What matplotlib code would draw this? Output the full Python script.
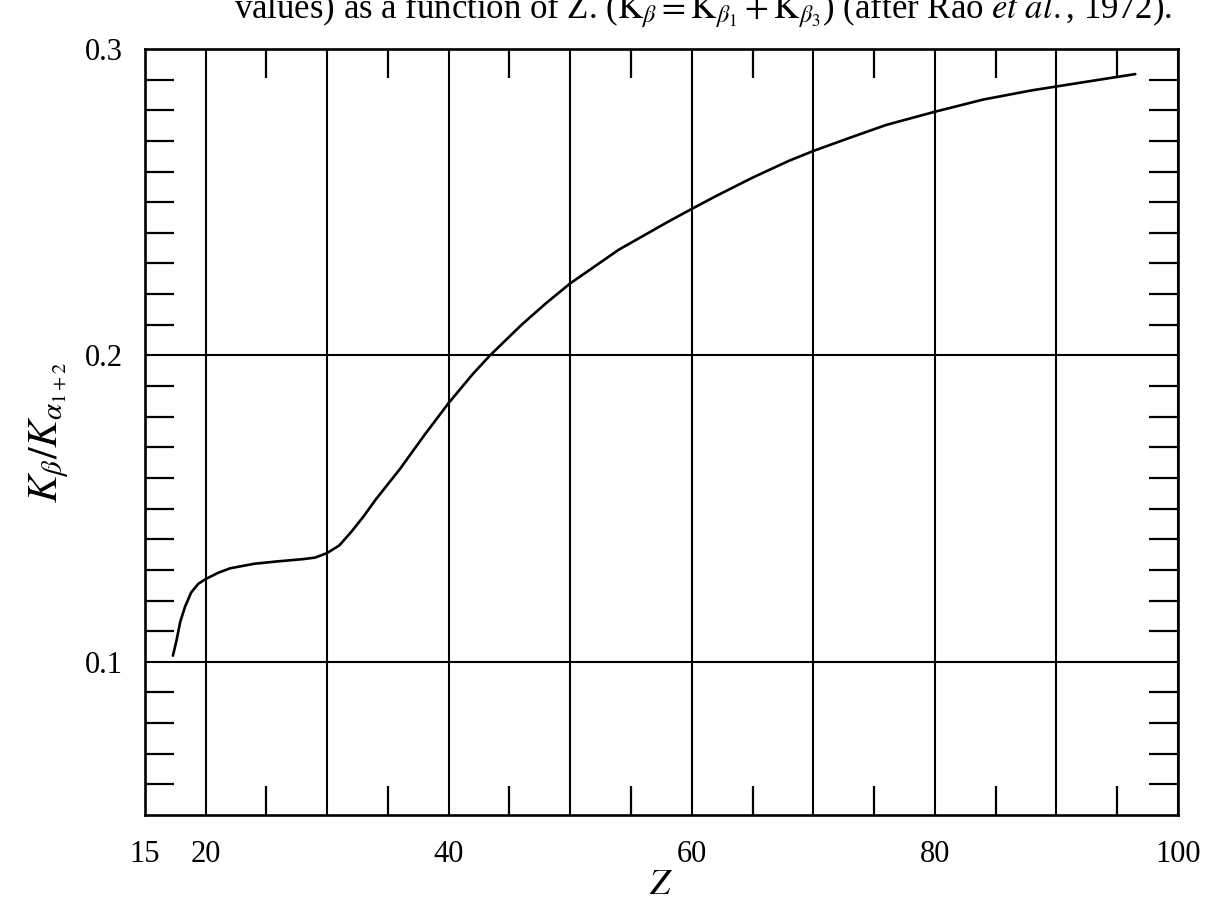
import matplotlib.pyplot as plt
import numpy as np
import matplotlib as mpl

mpl.rcParams['font.family'] = ['Liberation Serif', 'DejaVu Serif']
mpl.rcParams['mathtext.fontset'] = 'stix'
mpl.rcParams['font.size'] = 22

# K_beta / K_alpha ratio
z_vals = [17.3, 17.6, 17.9, 18.3, 18.8, 19.4, 20.0, 21.0, 22.0, 24.0, 26.0, 28.0,
          29.0, 30.0, 31.0, 32.0, 33.0, 34.0, 36.0, 38.0, 40.0, 42.0, 43.4,
          46.0, 48.0, 50.0, 52.0, 54.0, 56.0, 58.0, 60.0, 62.0, 65.0, 68.0,
          70.0, 73.0, 76.0, 80.0, 84.0, 88.0, 92.0, 96.5]
ratio = [0.102, 0.107, 0.113, 0.118, 0.1226, 0.1255, 0.127, 0.129, 0.1305, 0.132,
         0.1328, 0.1335, 0.134, 0.1355, 0.138, 0.1425, 0.1475, 0.153, 0.163,
         0.174, 0.1845, 0.194, 0.200, 0.210, 0.217, 0.2235, 0.229, 0.2345,
         0.239, 0.2435, 0.2478, 0.252, 0.258, 0.2635, 0.2667, 0.271, 0.2752,
         0.2795, 0.2835, 0.2865, 0.289, 0.2918]

x_ticks = [15, 20, 30, 40, 50, 60, 70, 80, 90, 100]
x_labels = ['15', '20', '', '40', '', '60', '', '80', '', '100']
x_minor = [25, 35, 45, 55, 65, 75, 85, 95]
y_ticks = [0.1, 0.2, 0.3]
y_labels = ['0.1', '0.2', '0.3']

fig = plt.figure(figsize=(12.08, 9.10), dpi=100)
ax = fig.add_axes([0.120, 0.1044, 0.855, 0.8418])

ax.plot(z_vals, ratio, color='black', lw=1.9, solid_capstyle='round',
        solid_joinstyle='round')

ax.set_xlim(15, 100)
ax.set_ylim(0.05, 0.3)

ax.set_xticks(x_ticks)
ax.set_xticklabels(x_labels)
ax.set_xticks(x_minor, minor=True)
ax.set_yticks(y_ticks)
ax.set_yticklabels(y_labels)
ax.set_yticks([v for v in np.arange(0.06, 0.30, 0.01)
               if abs(v - 0.1) > 1e-6 and abs(v - 0.2) > 1e-6], minor=True)

ax.tick_params(which='major', length=0, pad=16)
ax.tick_params(axis='x', which='major', pad=18)
ax.tick_params(which='minor', direction='in', length=21, width=1.6,
               top=True, bottom=True, left=True, right=True)

ax.grid(True, which='major', color='black', lw=1.5)
for s in ax.spines.values():
    s.set_linewidth(1.9)

ax.set_xlabel(r'$Z$', fontsize=26, labelpad=0)
ax.set_ylabel(r'$K_\beta/K_{\alpha_{1+2}}$', fontsize=30, labelpad=10)

fig.text(1172 / 1208, 1 - 18 / 910,
         r'values) as a function of Z. ($\mathrm{K}_\beta = \mathrm{K}_{\beta_1} + \mathrm{K}_{\beta_3}$) (after Rao $et\ al.$, 1972).',
         ha='right', va='baseline', fontsize=25)

fig.savefig('out.png', dpi=100)
